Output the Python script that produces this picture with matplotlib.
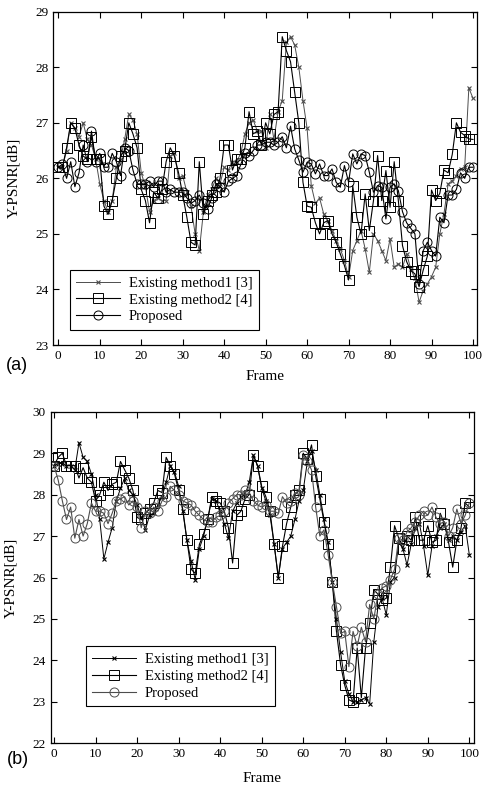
import matplotlib
matplotlib.use("Agg")
import matplotlib.pyplot as plt
import numpy as np

frames = np.arange(101)

# (a) Y-PSNR per frame
a_method1 = [26.2, 26.2, 26.5, 27.0, 26.9, 26.75, 27.0, 26.7, 26.6, 26.35,
             25.9, 25.6, 25.4, 25.6, 26.2, 26.35, 26.7, 27.15, 27.05, 26.8,
             26.1, 25.85, 25.4, 25.6, 25.65, 25.6, 25.6, 26.4, 26.45, 26.0,
             26.05, 25.75, 25.5, 25.0, 24.7, 25.4, 25.7, 25.8, 26.0, 25.9,
             26.2, 26.15, 26.3, 26.3, 26.45, 26.8, 27.0, 27.05, 26.85, 26.85,
             26.55, 27.15, 26.7, 27.2, 27.4, 28.45, 28.55, 28.4, 28.0, 27.4,
             26.9, 25.87, 25.55, 25.65, 25.36, 25.24, 25.06, 24.88, 24.73, 24.52,
             24.22, 24.7, 24.88, 25.06, 24.73, 24.31, 25.0, 24.88, 24.7, 24.52,
             24.91, 24.4, 24.46, 24.4, 24.64, 24.37, 24.2, 23.77, 23.98, 24.1,
             24.23, 24.4, 25.0, 25.36, 25.9, 25.96, 26.05, 26.17, 26.2, 27.63,
             27.44]
a_method2 = [26.2, 26.2, 26.55, 27.0, 26.9, 26.6, 26.4, 26.35, 26.75, 26.35,
             26.35, 25.5, 25.35, 25.6, 26.0, 26.4, 26.5, 27.0, 26.8, 26.55,
             25.8, 25.6, 25.2, 25.75, 25.65, 25.8, 26.3, 26.55, 26.4, 26.1,
             25.7, 25.3, 24.85, 24.8, 26.3, 25.35, 25.6, 25.7, 25.75, 26.0,
             26.6, 26.6, 26.15, 26.35, 26.35, 26.55, 27.2, 26.8, 26.85, 26.6,
             27.0, 26.8, 27.15, 27.2, 28.55, 28.3, 28.1, 27.55, 27.0, 25.93,
             25.5, 25.48, 25.2, 25.0, 25.2, 25.24, 25.0, 24.85, 24.64, 24.43,
             24.17, 25.87, 25.3, 25.0, 25.72, 25.06, 25.6, 26.41, 25.6, 26.14,
             25.48, 26.3, 25.6, 24.79, 24.5, 24.34, 24.28, 24.05, 24.35, 24.6,
             25.79, 25.6, 25.73, 26.15, 26.1, 26.43, 27.0, 26.83, 26.77, 26.71,
             26.7]
a_proposed = [26.2, 26.25, 26.0, 26.3, 25.85, 26.1, 26.6, 26.3, 26.85, 26.3,
              26.45, 26.2, 26.2, 26.45, 26.3, 26.05, 26.55, 26.5, 26.15, 25.9,
              25.9, 25.9, 25.95, 25.85, 25.95, 25.95, 25.75, 25.8, 25.75, 25.75,
              25.75, 25.65, 25.55, 25.6, 25.7, 25.55, 25.45, 25.65, 25.9, 25.85,
              25.75, 25.95, 26.0, 26.05, 26.25, 26.45, 26.4, 26.5, 26.6, 26.6,
              26.65, 26.65, 26.6, 26.65, 26.75, 26.55, 26.94, 26.53, 26.33, 26.11,
              26.29, 26.26, 26.08, 26.26, 26.05, 26.05, 26.17, 25.93, 25.84, 26.23,
              25.93, 26.44, 26.26, 26.44, 26.41, 26.11, 25.75, 25.87, 25.84, 25.27,
              25.84, 25.9, 25.78, 25.4, 25.2, 25.1, 25.0, 24.1, 24.7, 24.85,
              24.7, 24.6, 25.3, 25.2, 25.7, 25.7, 25.8, 26.1, 26.0, 26.2,
              26.2]

# (b) Y-PSNR per frame
b_method1 = [28.7, 28.75, 28.75, 28.7, 28.7, 28.6, 29.25, 28.9, 28.8, 28.5,
             28.0, 27.4, 26.45, 26.85, 27.2, 27.85, 28.15, 28.4, 28.1, 28.0,
             27.75, 27.45, 27.15, 27.5, 27.55, 27.75, 27.95, 28.3, 28.7, 28.55,
             28.2, 27.6, 26.9, 26.4, 25.95, 26.7, 27.0, 27.4, 27.9, 27.85,
             27.6, 27.3, 26.95, 27.6, 27.8, 27.95, 28.0, 28.3, 28.95, 28.7,
             28.15, 27.85, 27.5, 26.8, 26.0, 26.7, 26.85, 27.0, 27.4, 27.85,
             28.1, 28.8, 29.05, 28.6, 28.0, 27.4, 26.85, 25.9, 25.0, 24.2,
             23.5, 23.2, 23.0, 23.0, 23.05, 23.1, 22.95, 24.45, 25.3, 25.5,
             25.1, 25.9, 26.0, 26.85, 26.7, 26.3, 26.8, 27.2, 27.3, 26.75,
             26.05, 26.75, 27.0, 27.2, 27.3, 26.9, 27.0, 26.9, 27.1, 27.25,
             26.55]
b_method2 = [28.7, 28.9, 29.0, 28.7, 28.7, 28.7, 28.4, 28.65, 28.4, 28.3,
             27.85, 28.0, 28.3, 28.1, 28.25, 28.3, 28.8, 28.6, 28.4, 28.1,
             27.45, 27.4, 27.55, 27.65, 27.8, 28.1, 28.05, 28.9, 28.7, 28.5,
             28.1, 27.65, 26.9, 26.2, 26.1, 26.8, 27.05, 27.4, 27.95, 27.85,
             27.8, 27.6, 27.2, 26.35, 27.5, 27.6, 27.9, 28.0, 28.95, 28.7,
             28.2, 27.95, 27.6, 26.8, 26.0, 26.75, 27.3, 27.7, 28.0, 28.1,
             29.0, 28.85, 29.2, 28.45, 27.9, 27.35, 26.8, 25.9, 24.7, 23.9,
             23.4, 23.05, 23.0, 24.3, 23.1, 24.3, 24.9, 25.7, 25.6, 25.45,
             25.5, 26.25, 27.25, 26.95, 26.7, 27.0, 26.9, 27.45, 26.9, 26.9,
             27.25, 26.85, 26.9, 27.55, 27.3, 26.85, 26.25, 26.9, 27.2, 27.8,
             27.7]
b_proposed = [28.7, 28.35, 27.85, 27.4, 27.7, 26.95, 27.4, 27.0, 27.3, 27.8,
              27.6, 27.6, 27.55, 27.3, 27.55, 27.85, 27.9, 27.95, 27.75, 27.85,
              27.7, 27.2, 27.6, 27.55, 27.7, 27.6, 27.85, 27.95, 28.2, 28.1,
              28.0, 27.85, 27.8, 27.75, 27.6, 27.5, 27.4, 27.35, 27.35, 27.45,
              27.5, 27.6, 27.8, 27.9, 28.0, 28.0, 28.1, 28.05, 27.85, 27.75,
              27.7, 27.75, 27.6, 27.6, 27.55, 27.95, 27.8, 27.85, 28.05, 28.0,
              28.95, 28.8, 28.6, 27.7, 27.0, 27.15, 26.55, 25.9, 25.3, 24.65,
              24.7, 23.85, 24.7, 24.35, 24.8, 24.45, 25.35, 25.0, 25.6, 25.75,
              25.8, 25.95, 26.2, 26.95, 26.9, 27.1, 27.2, 27.35, 27.5, 27.6,
              27.5, 27.7, 27.45, 27.3, 27.35, 27.0, 27.2, 27.65, 27.3, 27.5,
              27.8]

labels = ["Existing method1 [3]", "Existing method2 [4]", "Proposed"]
serif = "Liberation Serif"

fig = plt.figure(figsize=(4.83, 7.85), dpi=100)
ax_a = fig.add_axes([0.1104, 0.5605, 0.8766, 0.4246])
ax_b = fig.add_axes([0.105, 0.0531, 0.877, 0.4224])


def draw(ax, m1, m2, pr, c1, c3, ylim, xlim, leg_anchor, xlab_y):
    ax.plot(frames, m1, color=c1, lw=0.7, marker='x', ms=3.5, mew=0.8, label=labels[0])
    ax.plot(frames, m2, color='k', lw=0.8, marker='s', ms=6.5, mfc='none', mew=0.7, label=labels[1])
    ax.plot(frames, pr, color=c3, lw=0.8, marker='o', ms=6.5, mfc='none', mew=0.7, label=labels[2])
    ax.set_xlim(*xlim)
    ax.set_ylim(*ylim)
    ax.set_xticks(range(0, 101, 10))
    ax.set_yticks(range(ylim[0], ylim[1] + 1))
    ax.tick_params(direction='in', top=True, right=True, length=4, width=0.8,
                   labelsize=9.5)
    for lab in ax.get_xticklabels() + ax.get_yticklabels():
        lab.set_fontfamily(serif)
    for s in ax.spines.values():
        s.set_linewidth(0.9)
    ax.set_xlabel("Frame", fontfamily=serif, fontsize=11)
    ax.xaxis.set_label_coords(0.5, xlab_y)
    ax.set_ylabel("Y-PSNR[dB]", fontfamily=serif, fontsize=11)
    ax.yaxis.set_label_coords(-0.078, 0.5)
    leg = ax.legend(loc='lower left', bbox_to_anchor=leg_anchor, borderaxespad=0,
                    prop={'family': serif, 'size': 10.5}, fancybox=False,
                    edgecolor='k', framealpha=1, handlelength=3.0,
                    labelspacing=0.25, borderpad=0.45, handletextpad=0.6)
    leg.get_frame().set_linewidth(0.8)


draw(ax_a, a_method1, a_method2, a_proposed, '0.3', 'k', (23, 29), (-1.2, 100.9),
     (0.039, 0.045), -0.075)
draw(ax_b, b_method1, b_method2, b_proposed, 'k', '0.3', (22, 30), (-0.8, 101.2),
     (0.083, 0.112), -0.088)

fig.text(0.035, 0.534, "(a)", fontfamily="Liberation Sans", fontsize=13, ha='center', va='center')
fig.text(0.037, 0.032, "(b)", fontfamily="Liberation Sans", fontsize=13, ha='center', va='center')

fig.savefig("out.png", dpi=100)
